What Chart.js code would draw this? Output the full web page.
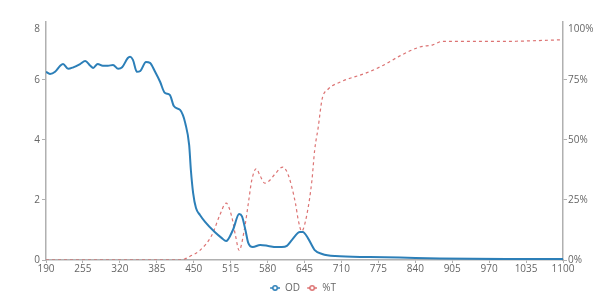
<!DOCTYPE html>
<html>
<head>
<meta charset="utf-8">
<script src="https://cdn.jsdelivr.net/npm/chart.js@4/dist/chart.umd.min.js"></script>
<style>
  html, body { margin: 0; padding: 0; background: #fff; }
  #wrap { width: 600px; height: 295px; }
</style>
</head>
<body>
<div id="wrap"><canvas id="chart"></canvas></div>
<script>
// wavelength (nm) sampling for each series
const odWavelength = [190, 197, 206, 215, 220, 229, 238, 250, 259, 268, 273, 281, 290, 299, 308, 317, 324, 334, 338, 343, 350, 356, 366, 373, 382, 391, 399, 408, 415, 426, 431, 435, 442, 445, 449, 454, 461, 470, 487, 500, 507, 519, 530, 535, 541, 546, 554, 567, 581, 595, 605, 614, 623, 637, 642, 651, 663, 676, 699, 760, 813, 883, 1000, 1100];
const odValues = [6.27, 6.2, 6.27, 6.47, 6.53, 6.37, 6.42, 6.53, 6.63, 6.47, 6.4, 6.53, 6.47, 6.47, 6.5, 6.37, 6.42, 6.73, 6.77, 6.67, 6.27, 6.3, 6.6, 6.57, 6.27, 5.93, 5.57, 5.5, 5.13, 5.0, 4.83, 4.57, 3.83, 3.0, 2.23, 1.73, 1.5, 1.27, 0.93, 0.72, 0.63, 1.0, 1.53, 1.45, 1.0, 0.57, 0.43, 0.5, 0.47, 0.43, 0.43, 0.47, 0.67, 0.93, 0.93, 0.73, 0.33, 0.2, 0.13, 0.1, 0.08, 0.05, 0.03, 0.03];

const tWavelength = [190, 400, 426, 435, 443, 461, 482, 496, 507, 517, 524, 530, 539, 547, 552, 560, 567, 575, 583, 592, 607, 617, 629, 634, 640, 649, 658, 663, 669, 676, 686, 707, 755, 783, 813, 848, 871, 887, 989, 1100];
const tValues = [0, 0, 0, 0.5, 1.5, 4, 10.4, 18.7, 23.7, 18, 9.6, 4, 12.5, 25, 33, 38, 35, 32, 33, 35.5, 38.7, 35, 23.7, 16.7, 12, 18.7, 33, 46, 55, 67, 71, 74, 78, 81, 85, 88.7, 89.6, 91, 91, 91.7];

const xTicks = [190, 255, 320, 385, 450, 515, 580, 645, 710, 775, 840, 905, 970, 1035, 1100];
const odTicks = [0, 2, 4, 6, 7.7];
const odTickLabels = ['0', '2', '4', '6', '8'];
const tTicks = [0, 25, 50, 75, 96.25];
const tTickLabels = ['0%', '25%', '50%', '75%', '100%'];

const BLUE = '#2c7fb8';
const RED = 'rgba(214, 90, 90, 0.85)';
const GREY = '#666';
const AXIS = '#b0b0b0';

// legend swatch: short line with an open dot, with some blank room on the left
function marker(color) {
  const c = document.createElement('canvas');
  c.width = 16; c.height = 8;
  const g = c.getContext('2d');
  g.strokeStyle = color;
  g.lineWidth = 1.5;
  g.beginPath(); g.moveTo(6, 4); g.lineTo(16, 4); g.stroke();
  g.fillStyle = '#fff';
  g.beginPath(); g.arc(11, 4, 2.2, 0, Math.PI * 2); g.fill(); g.stroke();
  return c;
}

const pairs = (xs, ys) => xs.map((x, i) => ({ x: x, y: ys[i] }));

new Chart(document.getElementById('chart'), {
  type: 'line',
  data: {
    datasets: [
      {
        label: 'OD',
        data: pairs(odWavelength, odValues),
        yAxisID: 'yOD',
        borderColor: BLUE,
        borderWidth: 2,
        pointRadius: 0,
        cubicInterpolationMode: 'monotone',
        fill: false
      },
      {
        label: '%T',
        data: pairs(tWavelength, tValues),
        yAxisID: 'yT',
        borderColor: RED,
        borderWidth: 1.2,
        borderDash: [3, 3],
        pointRadius: 0,
        cubicInterpolationMode: 'monotone',
        fill: false
      }
    ]
  },
  options: {
    responsive: true,
    maintainAspectRatio: false,
    animation: false,
    layout: { padding: { top: 22, bottom: -8, left: 0, right: 0 } },
    plugins: {
      tooltip: { enabled: false },
      legend: {
        position: 'bottom',
        labels: {
          usePointStyle: true,
          pointStyleWidth: 16,
          boxHeight: 8,
          padding: 1,
          color: GREY,
          font: { family: 'Open Sans', size: 10 },
          generateLabels: chart => chart.data.datasets.map((d, i) => ({
            text: d.label,
            pointStyle: marker(d.borderColor),
            fontColor: GREY,
            strokeStyle: 'transparent',
            fillStyle: 'transparent',
            lineWidth: 0,
            datasetIndex: i
          }))
        }
      }
    },
    scales: {
      x: {
        type: 'linear',
        min: 190,
        max: 1100,
        afterFit: s => { s.height = 22; },
        afterBuildTicks: s => { s.ticks = xTicks.map(v => ({ value: v })); },
        border: { color: AXIS, width: 1.5 },
        grid: { drawOnChartArea: false, color: AXIS, tickLength: 3 },
        ticks: {
          color: GREY,
          padding: 0,
          maxRotation: 0,
          autoSkip: false,
          font: { family: 'Open Sans', size: 10 },
          callback: v => String(v)
        }
      },
      yOD: {
        type: 'linear',
        position: 'left',
        min: 0,
        max: 7.93,
        afterFit: s => { s.width = 46; },
        afterBuildTicks: s => { s.ticks = odTicks.map(v => ({ value: v })); },
        border: { color: AXIS, width: 1.5 },
        grid: {
          drawOnChartArea: false,
          tickLength: 4,
          color: ctx => ctx.index === 4 ? 'transparent' : AXIS
        },
        ticks: {
          color: GREY,
          padding: 2,
          font: { family: 'Open Sans', size: 10 },
          callback: (v, i) => odTickLabels[i]
        }
      },
      yT: {
        type: 'linear',
        position: 'right',
        min: 0,
        max: 99.1,
        afterFit: s => { s.width = 37; },
        afterBuildTicks: s => { s.ticks = tTicks.map(v => ({ value: v })); },
        border: { color: AXIS, width: 1.5 },
        grid: {
          drawOnChartArea: false,
          tickLength: 4,
          color: ctx => ctx.index === 4 ? 'transparent' : AXIS
        },
        ticks: {
          color: GREY,
          padding: 1,
          font: { family: 'Open Sans', size: 10 },
          callback: (v, i) => tTickLabels[i]
        }
      }
    }
  }
});
</script>
</body>
</html>
